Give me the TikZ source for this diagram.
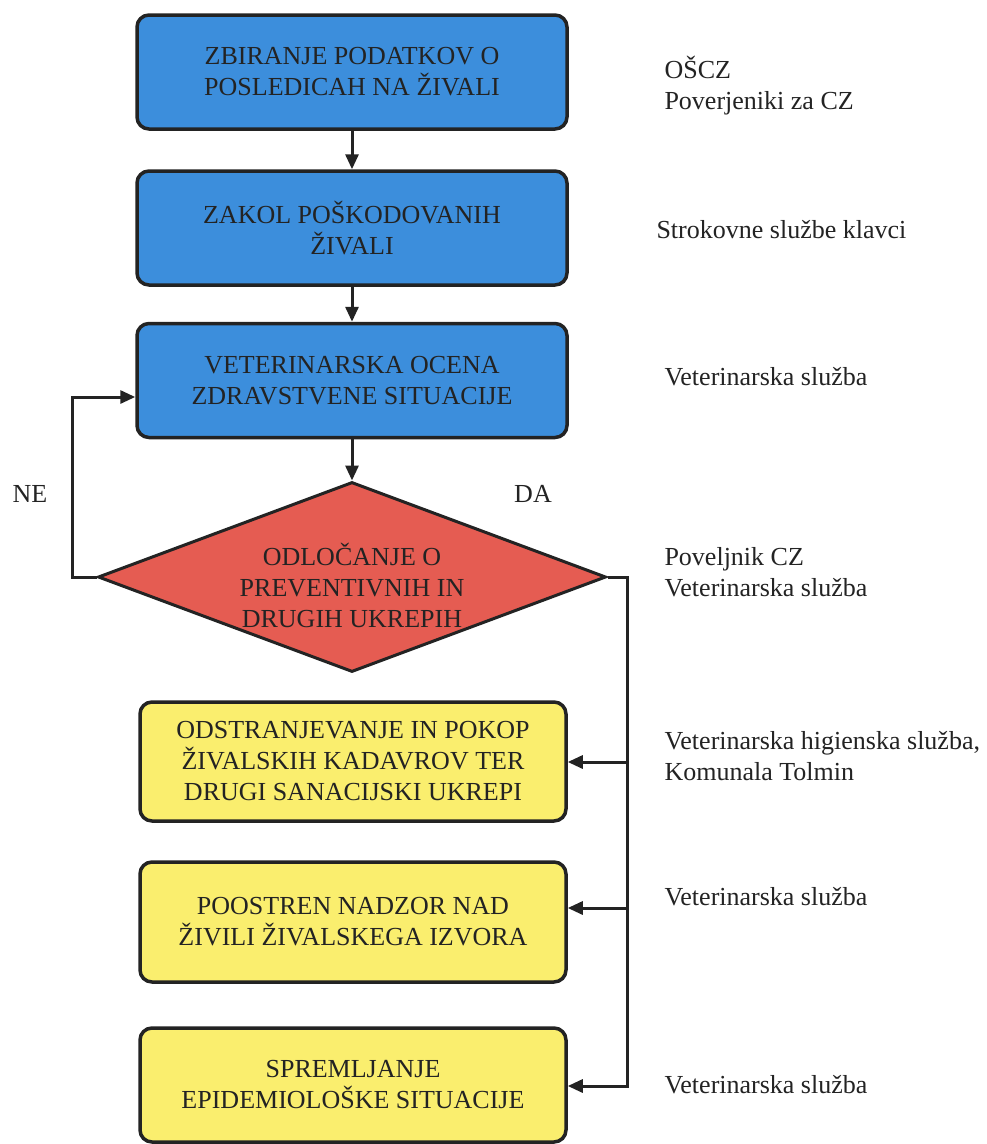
\documentclass[tikz,border=0pt]{standalone}
\usepackage{fontspec}
\setmainfont{Liberation Serif}
\usetikzlibrary{shapes.geometric,arrows.meta}
\definecolor{boxblue}{RGB}{60,142,220}
\definecolor{boxred}{RGB}{229,92,82}
\definecolor{boxyellow}{RGB}{250,238,110}
\definecolor{ink}{RGB}{35,35,35}
\begin{document}
\begin{tikzpicture}[x=1pt,y=-1pt,
  every node/.style={font=\fontsize{26}{31}\selectfont, text=ink},
  flowbox/.style={draw=ink, line width=3.5pt, rounded corners=12pt, align=center, inner sep=0pt},
  bluebox/.style={flowbox, fill=boxblue, minimum width=430pt, minimum height=114pt},
  yellowbox/.style={flowbox, fill=boxyellow, minimum width=426pt},
  decision/.style={diamond, draw=ink, line width=3pt, fill=boxred, minimum width=508pt, minimum height=190pt, inner sep=0pt},
  conn/.style={draw=ink, line width=3pt},
  arr/.style={conn, -{Triangle[length=15pt,width=13pt]}},
  note/.style={anchor=west, align=left}]
\path[fill=white, use as bounding box] (0,0) rectangle (986,1144);

% blue process boxes
\node[bluebox] (b1) at (352,72) {ZBIRANJE PODATKOV O\\POSLEDICAH NA ŽIVALI};
\node[bluebox] (b2) at (352,228) {ZAKOL POŠKODOVANIH\\ŽIVALI};
\node[bluebox] (b3) at (352,380.5) {VETERINARSKA OCENA\\ZDRAVSTVENE SITUACIJE};

% decision
\node[decision] (d) at (352,577) {};
\node[align=center] (dt) at (352,585) {ODLOČANJE O\\PREVENTIVNIH IN\\DRUGIH UKREPIH};

% yellow boxes
\node[yellowbox, minimum height=119pt] (y1) at (353,761.5) {ODSTRANJEVANJE IN POKOP\\ŽIVALSKIH KADAVROV TER\\DRUGI SANACIJSKI UKREPI};
\node[yellowbox, minimum height=120pt] (y2) at (353,922) {POOSTREN NADZOR NAD\\ŽIVILI ŽIVALSKEGA IZVORA};
\node[yellowbox, minimum height=114pt] (y3) at (353,1085) {SPREMLJANJE\\EPIDEMIOLOŠKE SITUACIJE};

% main flow
\draw[arr] (b1.south) -- (b2.north);
\draw[arr] (b2.south) -- (b3.north);
\draw[arr] (b3.south) -- (d.north);

% NE loop
\coordinate (l0) at (72,577);
\coordinate (l1) at (72,397);
\draw[arr] (d.west) -- (l0) -- (l1) -- (b3.west |- l1);

% DA branch
\coordinate (r0) at (627,577);
\coordinate (r1) at (627,762);
\coordinate (r2) at (627,908);
\coordinate (r3) at (627,1086);
\draw[arr] (d.east) -- (r0) -- (r3) -- (y3.east |- r3);
\draw[arr] (r1) -- (y1.east |- r1);
\draw[arr] (r2) -- (y2.east |- r2);

% branch labels
\node (ne) at (30,494) {NE};
\node (da) at (533,494) {DA};

% responsible parties
\node[note] (n1) at (661,86) {OŠCZ\\Poverjeniki za CZ};
\node[note] (n2) at (653,230) {Strokovne službe klavci};
\node[note] (n3) at (661,377) {Veterinarska služba};
\node[note] (n4) at (661,572) {Poveljnik CZ\\Veterinarska služba};
\node[note] (n5) at (661,756) {Veterinarska higienska služba,\\Komunala Tolmin};
\node[note] (n6) at (661,897) {Veterinarska služba};
\node[note] (n7) at (661,1085) {Veterinarska služba};
\end{tikzpicture}
\end{document}
